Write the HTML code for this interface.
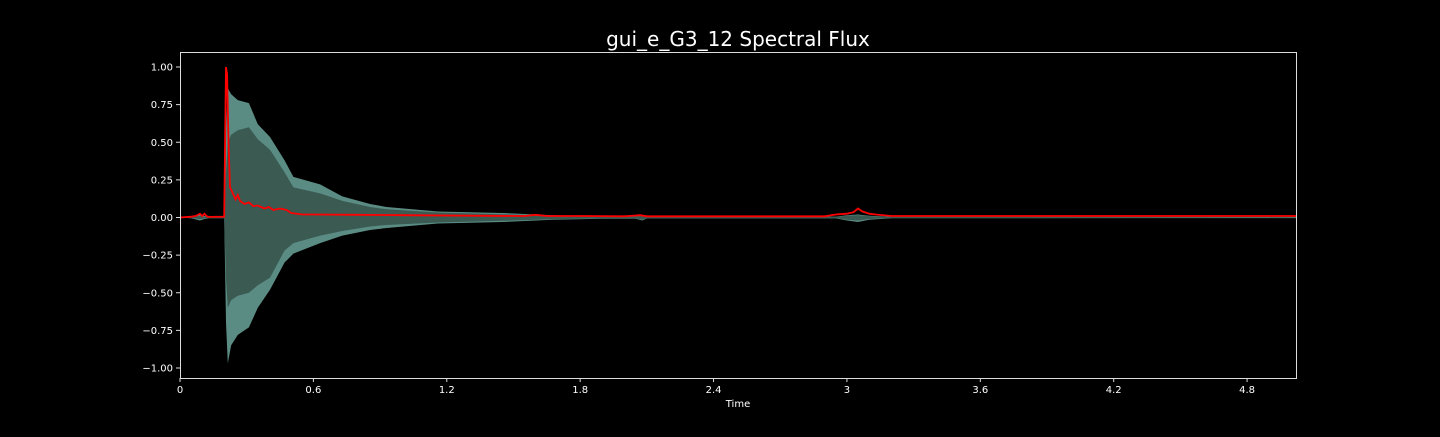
<!DOCTYPE html>
<html><head><meta charset="utf-8"><style>
html,body{margin:0;padding:0;background:#000;}
svg text{font-family:"DejaVu Sans","Liberation Sans",sans-serif;}
</style></head><body>
<svg id="chart" width="1440" height="432" xmlns="http://www.w3.org/2000/svg">
<rect width="1440" height="432" fill="#000"/>
<text x="738" y="46" fill="#fff" font-size="20" text-anchor="middle">gui_e_G3_12 Spectral Flux</text>
<g id="plot"></g>
<g id="axes"></g>
<text x="738" y="407" fill="#fff" font-size="10" text-anchor="middle">Time</text>
</svg>
<script>
const envT     = [0, 0.05, 0.09, 0.11, 0.13, 0.199, 0.207, 0.215, 0.23, 0.26, 0.31, 0.35, 0.405, 0.47, 0.51, 0.63, 0.73, 0.855, 0.93, 1.16, 1.45, 1.68, 1.9, 2.05, 2.08, 2.1, 2.95, 3.0, 3.05, 3.1, 3.2, 5.02];
const outerTop = [0, 0.005, 0.02, 0.01, 0.005, 0.005, 0.6, 0.86, 0.82, 0.78, 0.76, 0.62, 0.535, 0.38, 0.27, 0.22, 0.14, 0.09, 0.07, 0.04, 0.03, 0.015, 0.008, 0.008, 0.015, 0.006, 0.006, 0.015, 0.02, 0.012, 0.005, 0.004];
const outerBot = [0, -0.005, -0.02, -0.01, -0.005, -0.005, -0.7, -0.97, -0.85, -0.78, -0.73, -0.6, -0.48, -0.30, -0.24, -0.17, -0.12, -0.083, -0.07, -0.04, -0.03, -0.015, -0.008, -0.008, -0.02, -0.006, -0.006, -0.02, -0.03, -0.015, -0.005, -0.004];
const innerTop = [0, 0.003, 0.01, 0.005, 0.003, 0.003, 0.3, 0.5, 0.55, 0.58, 0.6, 0.52, 0.45, 0.3, 0.2, 0.16, 0.11, 0.07, 0.055, 0.033, 0.022, 0.011, 0.006, 0.006, 0.012, 0.004, 0.004, 0.012, 0.015, 0.009, 0.003, 0.002];
const innerBot = [0, -0.003, -0.01, -0.005, -0.003, -0.003, -0.4, -0.6, -0.55, -0.52, -0.5, -0.45, -0.4, -0.22, -0.17, -0.12, -0.09, -0.06, -0.05, -0.033, -0.022, -0.011, -0.006, -0.006, -0.015, -0.004, -0.004, -0.015, -0.02, -0.01, -0.003, -0.002];
const fluxT   = [0, 0.05, 0.07, 0.09, 0.1, 0.11, 0.12, 0.13, 0.199, 0.207, 0.212, 0.218, 0.225, 0.235, 0.25, 0.26, 0.27, 0.29, 0.31, 0.33, 0.35, 0.38, 0.4, 0.42, 0.45, 0.48, 0.5, 0.55, 0.6, 0.8, 1.0, 1.3, 1.55, 1.6, 1.65, 1.8, 2.0, 2.07, 2.1, 2.9, 2.95, 3.0, 3.03, 3.05, 3.07, 3.1, 3.13, 3.2, 5.02];
const fluxV   = [0, 0.005, 0.01, 0.025, 0.01, 0.025, 0.008, 0.004, 0.005, 1.0, 0.95, 0.5, 0.2, 0.17, 0.12, 0.15, 0.11, 0.09, 0.10, 0.075, 0.08, 0.06, 0.07, 0.05, 0.06, 0.05, 0.03, 0.02, 0.02, 0.018, 0.015, 0.012, 0.01, 0.018, 0.01, 0.01, 0.008, 0.015, 0.008, 0.008, 0.02, 0.025, 0.035, 0.06, 0.04, 0.025, 0.02, 0.01, 0.01];
const xTicks = [0, 0.6, 1.2, 1.8, 2.4, 3.0, 3.6, 4.2, 4.8];
const xTickLabels = ["0", "0.6", "1.2", "1.8", "2.4", "3", "3.6", "4.2", "4.8"];
const yTicks = [1, 0.75, 0.5, 0.25, 0, -0.25, -0.5, -0.75, -1];
const yTickLabels = ["1.00", "0.75", "0.50", "0.25", "0.00", "\u22120.25", "\u22120.50", "\u22120.75", "\u22121.00"];

const L = 180, R = 1296, T = 52, B = 378, xMax = 5.02;
const xs = t => L + t / xMax * (R - L);
const ys = v => 217.5 - v * 150.5;
const NS = "http://www.w3.org/2000/svg";
const plot = document.getElementById('plot'), axes = document.getElementById('axes');
function band(top, bot, fill) {
  let d = 'M' + envT.map((t, i) => xs(t).toFixed(1) + ',' + ys(top[i]).toFixed(1)).join('L');
  for (let i = envT.length - 1; i >= 0; i--) d += 'L' + xs(envT[i]).toFixed(1) + ',' + ys(bot[i]).toFixed(1);
  const p = document.createElementNS(NS, 'path');
  p.setAttribute('d', d + 'Z'); p.setAttribute('fill', fill);
  return p;
}
const ob = band(outerTop, outerBot, '#5a8c84');


plot.appendChild(ob);
const ib = band(innerTop, innerBot, '#3a5a52');


plot.appendChild(ib);
const fl = document.createElementNS(NS, 'polyline');
fl.setAttribute('points', fluxT.map((t, i) => xs(t).toFixed(1) + ',' + ys(fluxV[i]).toFixed(1)).join(' '));
fl.setAttribute('fill', 'none'); fl.setAttribute('stroke', '#ff0000'); fl.setAttribute('stroke-width', '1.8');


plot.appendChild(fl);

const frame = document.createElementNS(NS, 'rect');
frame.setAttribute('x', L + 0.5); frame.setAttribute('y', T + 0.5);
frame.setAttribute('width', R - L); frame.setAttribute('height', B - T);
frame.setAttribute('fill', 'none'); frame.setAttribute('stroke', '#ddd'); frame.setAttribute('stroke-width', '1');


axes.appendChild(frame);
xTicks.forEach((t, i) => {
  const x = xs(t);
  const ln = document.createElementNS(NS, 'line');
  ln.setAttribute('x1', x); ln.setAttribute('x2', x); ln.setAttribute('y1', B); ln.setAttribute('y2', B + 4);
  ln.setAttribute('stroke', '#ddd');
  
  
  axes.appendChild(ln);
  const tx = document.createElementNS(NS, 'text');
  tx.setAttribute('x', x); tx.setAttribute('y', B + 15); tx.setAttribute('fill', '#fff');
  tx.setAttribute('font-size', '10'); tx.setAttribute('text-anchor', 'middle');
  tx.textContent = xTickLabels[i];
  
  
  axes.appendChild(tx);
});
yTicks.forEach((v, i) => {
  const y = ys(v);
  const ln = document.createElementNS(NS, 'line');
  ln.setAttribute('x1', L - 4); ln.setAttribute('x2', L); ln.setAttribute('y1', y); ln.setAttribute('y2', y);
  ln.setAttribute('stroke', '#ddd');
  
  
  axes.appendChild(ln);
  const tx = document.createElementNS(NS, 'text');
  tx.setAttribute('x', L - 7); tx.setAttribute('y', y + 3.5); tx.setAttribute('fill', '#fff');
  tx.setAttribute('font-size', '10'); tx.setAttribute('text-anchor', 'end');
  tx.textContent = yTickLabels[i];
  
  
  axes.appendChild(tx);
});
</script>
</body></html>
